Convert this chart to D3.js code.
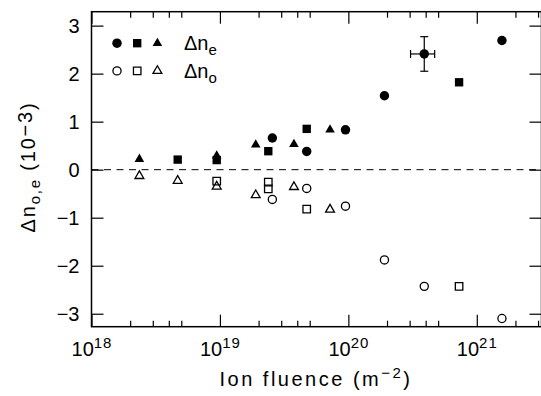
<!DOCTYPE html>
<html>
<head>
<meta charset="utf-8">
<script src="https://cdn.jsdelivr.net/npm/d3@7"></script>
<style>
  body { margin: 0; background: #fff; }
  text { font-family: "Liberation Sans", Arial, sans-serif; fill: #000; }
</style>
</head>
<body>
<svg id="chart" width="541" height="396"></svg>
<script>
// circles: filled = delta n_e, open = delta n_o
const circleFluence = [2.56e19, 4.74e19, 9.5e19, 1.91e20, 3.9e20, 1.57e21];
const circleNe = [0.66, 0.38, 0.83, 1.54, 2.41, 2.69];
const circleNo = [-0.62, -0.39, -0.76, -1.88, -2.43, -3.10];

// squares
const squareNeFluence = [4.69e18, 9.44e18, 2.38e19, 4.74e19, 7.28e20];
const squareNe = [0.21, 0.20, 0.385, 0.85, 1.82];
const squareNoFluence = [9.44e18, 2.38e19, 2.38e19, 4.74e19, 7.28e20];
const squareNo = [-0.24, -0.26, -0.40, -0.82, -2.43];

// triangles
const triNeFluence = [2.36e18, 9.44e18, 1.9e19, 3.77e19, 7.2e19];
const triNe = [0.22, 0.29, 0.52, 0.53, 0.83];
const triNoFluence = [2.36e18, 4.69e18, 9.44e18, 1.9e19, 3.77e19, 7.2e19];
const triNo = [-0.13, -0.23, -0.35, -0.53, -0.36, -0.83];

// error bar on one point
const errPoint = {x: 3.9e20, y: 2.41, xLo: 3.05e20, xHi: 4.70e20, yLo: 2.05, yHi: 2.77};

const xMajor = [1e18, 1e19, 1e20, 1e21];
const xExp = ["18", "19", "20", "21"];
const yTicks = [-3, -2, -1, 0, 1, 2, 3];

const svg = d3.select("#chart");
const pLeft = 91.5, pRight = 541.5, pTop = 11.7, pBottom = 326.7;

const x = d3.scaleLog().domain([1e18, Math.pow(10, 21.5)]).range([pLeft, 541]);
const y = d3.scaleLinear().domain([-3.27, 3.29]).range([pBottom, pTop]);

// minor ticks 2..5 per decade
let xMinor = [];
xMajor.forEach(d => {
    [2, 3, 4, 5].forEach(m => { if (d * m < x.domain()[1]) xMinor.push(d * m); });
});

// zero line
svg.append("line")
    .attr("x1", pLeft).attr("x2", pRight)
    .attr("y1", y(0)).attr("y2", y(0))
    .attr("stroke", "#000").attr("stroke-width", 1)
    .attr("stroke-dasharray", "7,5.5");

// axes (ticks pointing inward)
function cleanAxis(g) {
    g.select(".domain").remove();
    g.selectAll(".tick line").attr("stroke", "#000").attr("stroke-width", 1.2);
}

svg.append("g").attr("transform", `translate(0,${pBottom})`)
    .call(d3.axisBottom(x).tickValues(xMinor).tickSize(-6).tickFormat(""))
    .call(cleanAxis);
svg.append("g").attr("transform", `translate(0,${pTop})`)
    .call(d3.axisTop(x).tickValues(xMinor).tickSize(-6).tickFormat(""))
    .call(cleanAxis);
svg.append("g").attr("transform", `translate(0,${pTop})`)
    .call(d3.axisTop(x).tickValues(xMajor).tickSize(-12).tickFormat(""))
    .call(cleanAxis);

const xAxis = svg.append("g").attr("transform", `translate(0,${pBottom})`)
    .call(d3.axisBottom(x).tickValues(xMajor).tickSize(-12).tickPadding(0).tickFormat(""))
    .call(cleanAxis);

xAxis.selectAll(".tick text").each(function(d, i) {
    const t = d3.select(this)
        .attr("y", 29).attr("dy", null)
        .style("font-size", "20px")
        .attr("text-anchor", "middle");
    t.append("tspan").text("10");
    t.append("tspan").attr("dy", -8).style("font-size", "15px")
        .attr("letter-spacing", 1).text(xExp[i]);
});

svg.append("g").attr("transform", `translate(${pLeft},0)`)
    .call(d3.axisLeft(y).tickValues(yTicks).tickSize(-12).tickPadding(12)
        .tickFormat(d => d < 0 ? "\u2212" + Math.abs(d) : d))
    .call(cleanAxis)
    .selectAll(".tick text").style("font-size", "20px");

svg.append("g").attr("transform", `translate(${pRight},0)`)
    .call(d3.axisRight(y).tickValues(yTicks).tickSize(-12).tickFormat(""))
    .call(cleanAxis);

// frame
svg.append("rect")
    .attr("x", pLeft).attr("y", pTop)
    .attr("width", pRight - pLeft).attr("height", pBottom - pTop)
    .attr("fill", "none").attr("stroke", "#000").attr("stroke-width", 1.5);

// error bar
const eb = svg.append("g").attr("stroke", "#000").attr("stroke-width", 1.2);
eb.append("line").attr("x1", x(errPoint.x)).attr("x2", x(errPoint.x))
    .attr("y1", y(errPoint.yLo)).attr("y2", y(errPoint.yHi));
eb.append("line").attr("x1", x(errPoint.x) - 4).attr("x2", x(errPoint.x) + 4)
    .attr("y1", y(errPoint.yLo)).attr("y2", y(errPoint.yLo));
eb.append("line").attr("x1", x(errPoint.x) - 4).attr("x2", x(errPoint.x) + 4)
    .attr("y1", y(errPoint.yHi)).attr("y2", y(errPoint.yHi));
eb.append("line").attr("x1", x(errPoint.xLo)).attr("x2", x(errPoint.xHi))
    .attr("y1", y(errPoint.y)).attr("y2", y(errPoint.y));
eb.append("line").attr("x1", x(errPoint.xLo)).attr("x2", x(errPoint.xLo))
    .attr("y1", y(errPoint.y) - 4).attr("y2", y(errPoint.y) + 4);
eb.append("line").attr("x1", x(errPoint.xHi)).attr("x2", x(errPoint.xHi))
    .attr("y1", y(errPoint.y) - 4).attr("y2", y(errPoint.y) + 4);

// markers
const shapes = {
    circle: d3.symbol(d3.symbolCircle, 70),
    square: d3.symbol(d3.symbolSquare, 70),
    triangle: d3.symbol(d3.symbolTriangle, 40)
};
const shapesOpen = {
    circle: d3.symbol(d3.symbolCircle, 52),
    square: d3.symbol(d3.symbolSquare, 56),
    triangle: d3.symbol(d3.symbolTriangle, 34)
};

function drawSeries(xs, ys, shape, filled) {
    const data = xs.map((v, i) => [v, ys[i]]);
    svg.append("g").selectAll("path")
        .data(data)
        .enter()
        .append("path")
            .attr("transform", d => `translate(${x(d[0])},${y(d[1])})`)
            .attr("d", filled ? shapes[shape] : shapesOpen[shape])
            .attr("fill", filled ? "#000" : "none")
            .attr("stroke", "#000")
            .attr("stroke-width", filled ? 0 : 1.3);
}

drawSeries(circleFluence, circleNo, "circle", false);
drawSeries(squareNoFluence, squareNo, "square", false);
drawSeries(triNoFluence, triNo, "triangle", false);
drawSeries(squareNeFluence, squareNe, "square", true);
drawSeries(triNeFluence, triNe, "triangle", true);
drawSeries(circleFluence, circleNe, "circle", true);

// legend
const legendKeys = ["circle", "square", "triangle"];
const legendRows = [{sub: "e", filled: true, y: 43.2}, {sub: "o", filled: false, y: 70.9}];
legendRows.forEach(r => {
    legendKeys.forEach((k, i) => {
        svg.append("path")
            .attr("transform", `translate(${117 + i * 20.2},${r.y})`)
            .attr("d", r.filled ? shapes[k] : shapesOpen[k])
            .attr("fill", r.filled ? "#000" : "none")
            .attr("stroke", "#000")
            .attr("stroke-width", r.filled ? 0 : 1.3);
    });
    const t = svg.append("text").attr("x", 184).attr("y", r.y + 7).style("font-size", "20px");
    t.append("tspan").text("\u0394n");
    t.append("tspan").attr("dy", 5).style("font-size", "15px").text(r.sub);
});

// axis titles
const xt = svg.append("text")
    .attr("x", 316).attr("y", 386)
    .attr("text-anchor", "middle")
    .attr("letter-spacing", 2.5)
    .style("font-size", "20px");
xt.append("tspan").text("Ion fluence (m");
xt.append("tspan").attr("dy", -8).style("font-size", "15px").text("\u22122");
xt.append("tspan").attr("dy", 8).text(")");

const yt = svg.append("text")
    .attr("transform", "translate(35,167) rotate(-90)")
    .attr("text-anchor", "middle")
    .attr("letter-spacing", 1.8)
    .style("font-size", "20px");
yt.append("tspan").text("\u0394n");
yt.append("tspan").attr("dy", 5).style("font-size", "15px").text("o,e");
yt.append("tspan").attr("dy", -5).text("  (10");
yt.append("tspan").attr("dy", -3).text("\u22123");
yt.append("tspan").attr("dy", 3).text(")");
</script>
</body>
</html>
